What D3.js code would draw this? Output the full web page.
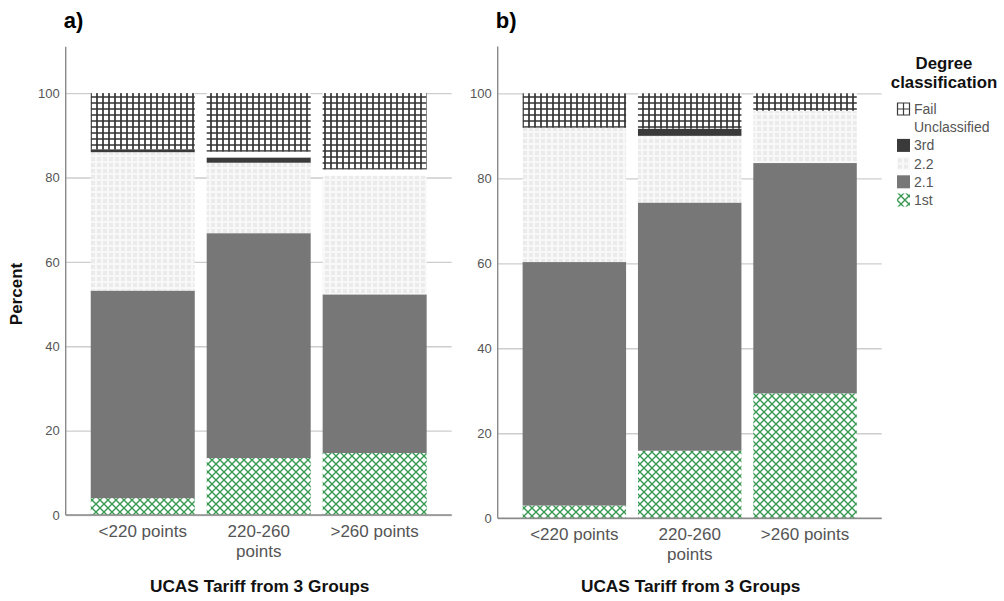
<!DOCTYPE html>
<html>
<head>
<meta charset="utf-8">
<script src="https://cdn.jsdelivr.net/npm/d3@7"></script>
<style>
  html, body { margin: 0; padding: 0; background: #fff; }
  svg { display: block; font-family: "Liberation Sans", Arial, sans-serif; }
</style>
</head>
<body>
<svg id="chart" width="1004" height="601"></svg>
<script>
// Categories and degree classes (stacked bottom to top)
const categories = ["<220 points", "220-260 points", ">260 points"];
const classes = ["1st", "2.1", "2.2", "3rd", "Unclassified", "Fail"];
const legendOrder = ["Fail", "Unclassified", "3rd", "2.2", "2.1", "1st"];
const yTicks = [0, 20, 40, 60, 80, 100];

// Panel a) percentages per tariff group
const firstA        = [4.0, 13.5, 14.7];
const upperSecondA  = [49.2, 53.3, 37.6];
const lowerSecondA  = [32.8, 16.7, 28.1];
const thirdA        = [0.7, 1.2, 0.0];
const unclassifiedA = [0.0, 1.4, 1.5];
const failA         = [13.3, 13.9, 18.1];

// Panel b) percentages per tariff group
const firstB        = [3.0, 15.9, 29.4];
const upperSecondB  = [57.3, 58.4, 54.2];
const lowerSecondB  = [31.6, 15.7, 12.3];
const thirdB        = [0.0, 1.7, 0.0];
const unclassifiedB = [0.0, 0.0, 0.0];
const failB         = [8.1, 8.3, 4.1];

function buildRows(first, us, ls, third, uncl, fail) {
  return categories.map((c, i) => ({
    group: c, "1st": first[i], "2.1": us[i], "2.2": ls[i],
    "3rd": third[i], "Unclassified": uncl[i], "Fail": fail[i]
  }));
}
const rowsA = buildRows(firstA, upperSecondA, lowerSecondA, thirdA, unclassifiedA, failA);
const rowsB = buildRows(firstB, upperSecondB, lowerSecondB, thirdB, unclassifiedB, failB);

const svg = d3.select("#chart");
const defs = svg.append("defs");

// Fail: dark square grid
const pFail = defs.append("pattern").attr("id", "pFail")
  .attr("patternUnits", "userSpaceOnUse").attr("width", 6).attr("height", 6);
pFail.append("rect").attr("width", 6).attr("height", 6).attr("fill", "#fff");
pFail.append("path").attr("d", "M1,0V6M0,1H6")
  .attr("stroke", "#333").attr("stroke-width", 1.7).attr("fill", "none");

// 2.2: faint dotted squares
const pLow = defs.append("pattern").attr("id", "pLow")
  .attr("patternUnits", "userSpaceOnUse").attr("width", 6).attr("height", 6);
pLow.append("rect").attr("width", 6).attr("height", 6).attr("fill", "#f8f8f8");
pLow.append("rect").attr("x", 1).attr("y", 1).attr("width", 4).attr("height", 4).attr("fill", "#ebebeb");

// 1st: green diagonal cross-hatch
const pFirst = defs.append("pattern").attr("id", "pFirst")
  .attr("patternUnits", "userSpaceOnUse").attr("width", 8).attr("height", 8);
pFirst.append("rect").attr("width", 8).attr("height", 8).attr("fill", "#fff");
pFirst.append("path").attr("d", "M-1,-1L9,9M9,-1L-1,9")
  .attr("stroke", "#389a52").attr("stroke-width", 1.4).attr("fill", "none");

const fills = {
  "Fail": "url(#pFail)",
  "Unclassified": "none",
  "3rd": "#3a3a3a",
  "2.2": "url(#pLow)",
  "2.1": "#777777",
  "1st": "url(#pFirst)"
};

const stack = d3.stack().keys(classes);

function wrapLabel(textSel, width) {
  textSel.each(function () {
    const text = d3.select(this);
    const words = text.text().split(/\s+/);
    const x = text.attr("x") || 0;
    const y = text.attr("y");
    const dy = parseFloat(text.attr("dy")) || 0;
    let line = [];
    let lineNo = 0;
    let tspan = text.text(null).append("tspan").attr("x", x).attr("y", y).attr("dy", dy + "em");
    words.forEach(w => {
      line.push(w);
      tspan.text(line.join(" "));
      if (tspan.node().getComputedTextLength() > width && line.length > 1) {
        line.pop();
        tspan.text(line.join(" "));
        line = [w];
        lineNo++;
        tspan = text.append("tspan").attr("x", x).attr("y", y)
          .attr("dy", (lineNo * 1.15 + dy) + "em").text(w);
      }
    });
  });
}

function drawPanel(rows, box, tag) {
  const x = d3.scaleBand().domain(categories)
    .range([box.left, box.right]).paddingInner(0.103).paddingOuter(0.216);
  const y = d3.scaleLinear().domain([0, 111]).range([box.bottom, box.top]);
  const g = svg.append("g");

  // gridlines and y tick labels
  const yAxis = g.append("g").attr("transform", `translate(${box.left},0)`)
    .call(d3.axisLeft(y).tickValues(yTicks).tickSize(-(box.right - box.left)).tickPadding(6));
  yAxis.select(".domain").remove();
  yAxis.selectAll(".tick line").attr("stroke", "#cdcdcd").attr("stroke-width", 1.4);
  yAxis.selectAll(".tick text").attr("fill", "#555").attr("font-size", 13)
    .attr("font-family", "'Liberation Sans', Arial, sans-serif");

  // stacked bars
  const series = stack(rows);
  g.append("g").selectAll("g").data(series).join("g")
    .attr("fill", d => fills[d.key])
    .selectAll("rect").data(d => d.filter(s => s[1] - s[0] > 0)).join("rect")
    .attr("x", d => x(d.data.group))
    .attr("width", x.bandwidth())
    .attr("y", d => y(d[1]))
    .attr("height", d => y(d[0]) - y(d[1]));

  // axis lines
  g.append("line").attr("x1", box.left).attr("x2", box.left)
    .attr("y1", y(0)).attr("y2", y(111)).attr("stroke", "#8a8a8a").attr("stroke-width", 1.4);
  g.append("line").attr("x1", box.left).attr("x2", box.right)
    .attr("y1", y(0)).attr("y2", y(0)).attr("stroke", "#8a8a8a").attr("stroke-width", 1.4);

  // category labels
  const xAxis = g.append("g").attr("transform", `translate(0,${box.bottom})`)
    .call(d3.axisBottom(x).tickSize(0).tickPadding(10));
  xAxis.select(".domain").remove();
  xAxis.selectAll(".tick text").attr("fill", "#555").attr("font-size", 17)
    .attr("font-family", "'Liberation Sans', Arial, sans-serif")
    .call(wrapLabel, x.bandwidth());

  // x axis title
  g.append("text").attr("x", (box.left + box.right) / 2 + 1).attr("y", 592)
    .attr("text-anchor", "middle").attr("font-size", 17.3).attr("font-weight", "bold")
    .attr("fill", "#111").text("UCAS Tariff from 3 Groups");

  // panel tag
  g.append("text").attr("x", box.left - 2).attr("y", 28)
    .attr("font-size", 22).attr("font-weight", "bold").attr("fill", "#000").text(tag);
}

drawPanel(rowsA, { left: 65.7, right: 451.7, top: 46.7, bottom: 515 }, "a)");
drawPanel(rowsB, { left: 497.7, right: 881.7, top: 46.6, bottom: 518.3 }, "b)");

// y axis title
svg.append("text").attr("transform", "translate(22,294) rotate(-90)")
  .attr("text-anchor", "middle").attr("font-size", 17).attr("font-weight", "bold")
  .attr("fill", "#111").text("Percent");

// legend
const legend = svg.append("g");
legend.append("text").attr("x", 944).attr("y", 69).attr("text-anchor", "middle")
  .attr("font-size", 16.8).attr("font-weight", "bold").attr("fill", "#111").text("Degree");
legend.append("text").attr("x", 944).attr("y", 88).attr("text-anchor", "middle")
  .attr("font-size", 16.8).attr("font-weight", "bold").attr("fill", "#111").text("classification");

const ly = d3.scalePoint().domain(legendOrder).range([109, 200]);
const items = legend.selectAll("g.item").data(legendOrder).join("g").attr("class", "item")
  .attr("transform", d => `translate(897,${ly(d)})`);
items.filter(d => d !== "Unclassified" && d !== "Fail").append("rect")
  .attr("x", 0).attr("y", -6.5).attr("width", 13).attr("height", 13)
  .attr("fill", d => fills[d]);
items.filter(d => d === "Fail").append("path")
  .attr("d", "M0.5,-6H12.5V6H0.5Z M6.5,-6V6 M0.5,0H12.5")
  .attr("fill", "#fff").attr("stroke", "#3a3a3a").attr("stroke-width", 1.2);
items.append("text").attr("x", 17).attr("y", 5).attr("font-size", 14)
  .attr("fill", "#555").text(d => d);
</script>
</body>
</html>
